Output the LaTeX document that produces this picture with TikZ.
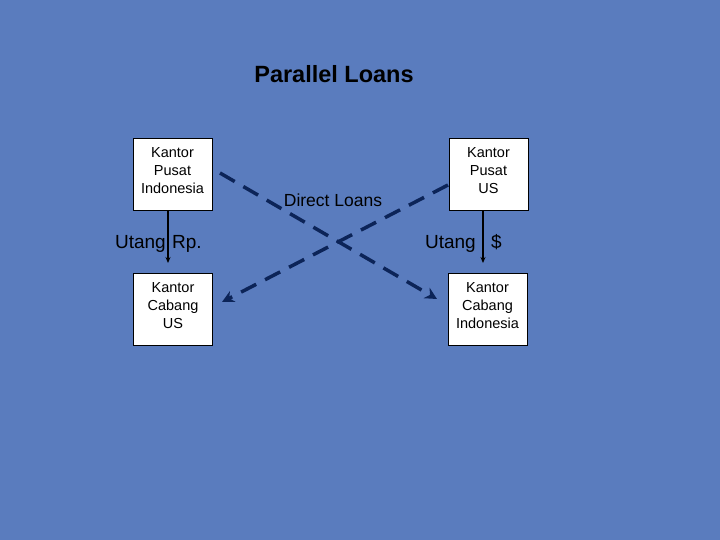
\documentclass[tikz,border=0pt]{standalone}
\usepackage{fontspec}
\setmainfont{Liberation Sans}
\usetikzlibrary{arrows.meta,calc}
\definecolor{bgblue}{RGB}{90,124,190}
\definecolor{navy}{RGB}{12,36,88}
\begin{document}
\begin{tikzpicture}[x=1pt,y=-1pt,
  box/.style={draw=black,line width=0.8pt,fill=white,minimum width=79pt,minimum height=72pt,inner sep=0pt},
  boxtxt/.style={anchor=north,inner sep=0pt,align=center,font=\fontsize{14.5}{18}\selectfont},
  loan/.style={navy,line width=3.5pt,dash pattern=on 17pt off 10pt,-{Stealth[length=12pt,width=12pt]}},
  utang/.style={black,line width=1.2pt,-{Stealth[length=6pt,width=5pt]}},
  lbl/.style={font=\fontsize{17.5}{20}\selectfont,inner sep=0pt},
  ulbl/.style={font=\fontsize{19}{20}\selectfont,inner sep=0pt}]
\useasboundingbox (0,0) rectangle (720,540);
\fill[bgblue] (0,0) rectangle (720,540);
\node[font=\bfseries\fontsize{23.5}{26}\selectfont,inner sep=0pt] (title) at (334,74) {Parallel Loans};
\node[box] (pi) at (172.5,174) {};
\node[box] (cu) at (173,309) {};
\node[box] (pu) at (488.5,174) {};
\node[box] (ci) at (487.5,309) {};
\node[boxtxt] (pit) at ($(pi.north)+(0,9.5)$) {Kantor\\Pusat\\Indonesia};
\node[boxtxt] (cut) at ($(cu.north)+(0,9.5)$) {Kantor\\Cabang\\US};
\node[boxtxt] (put) at ($(pu.north)+(0,9.5)$) {Kantor\\Pusat\\US};
\node[boxtxt] (cit) at ($(ci.north)+(0,9.5)$) {Kantor\\Cabang\\Indonesia};
\node[lbl] (dl) at (333,200) {Direct Loans};
\node[ulbl,anchor=base east] (ur1) at (166,248) {Utang};
\node[ulbl,anchor=base west] (ur2) at (172,248) {Rp.};
\node[ulbl,anchor=base east] (ud1) at (476,248) {Utang};
\node[ulbl,anchor=base west] (ud2) at (491,248) {\$};
\coordinate (u1e) at (168,263);
\coordinate (u2e) at (483,263);
\draw[utang] (pi.south -| u1e) -- (u1e);
\draw[utang] (pu.south -| u2e) -- (u2e);
\coordinate (a1s) at (220,173);
\coordinate (a1e) at (437,299);
\coordinate (a2s) at (448,185);
\coordinate (a2e) at (222,302);
\draw[loan] (a1s) -- (a1e);
\draw[loan] (a2s) -- (a2e);
\end{tikzpicture}
\end{document}
